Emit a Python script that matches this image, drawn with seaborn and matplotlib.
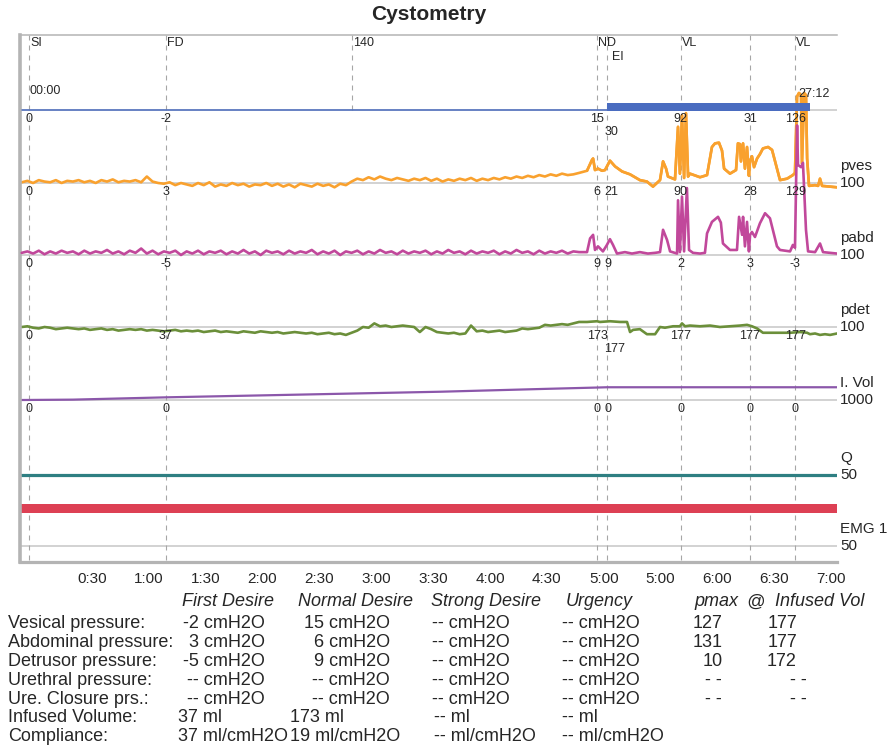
import numpy as np
import matplotlib
matplotlib.use("Agg")
import matplotlib.pyplot as plt
import seaborn as sns

sns.set_theme(style="white")
plt.rcParams['font.family'] = ['Liberation Sans', 'DejaVu Sans']

# --- Daten (Zeit in s, Werte in Kanaleinheiten) ---
t_quiet = np.arange(-7, 288, 3)

pves_quiet = [1, 3, 0, 4, 2, 1, 4, 0, 3, 2,
              4, 1, 3, 0, 4, 2, 5, 1, 3, 2,
              4, 1, 9, 2, 0, -1, 1, -3, 0, -2,
              -4, 0, -3, 1, -5, -2, -4, 0, -3, -1,
              -5, -2, -3, 0, -4, -1, -5, -2, -6, -1,
              -3, -5, -1, -4, -2, -6, -1, -3, 2, 6,
              4, 8, 5, 9, 6, 4, 7, 5, 3, 6,
              4, 7, 3, 6, 2, 5, 3, 6, 4, 7,
              3, 6, 4, 7, 5, 8, 6, 9, 7, 10,
              8, 11, 9, 12, 10, 13, 11, 12, 14]
pabd_quiet = [3, 5, 2, 6, 1, 5, 2, 6, 3, 5,
              1, 6, 2, 5, 3, 7, 2, 5, 1, 6,
              3, 9, 2, 6, 1, 5, 3, 6, 0, 5,
              2, 6, 1, 5, 3, 6, 1, 5, 2, 7,
              2, 5, 0, 6, 3, 5, 1, 6, 2, 5,
              3, 7, 1, 5, 2, 6, 0, 5, 3, 6,
              1, 5, 2, 7, 3, 5, 1, 6, 2, 5,
              3, 6, 1, 5, 2, 7, 3, 5, 1, 6,
              2, 5, 3, 6, 1, 5, 2, 7, 3, 5,
              1, 6, 2, 5, 3, 6, 2, 5, 4]
pdet_quiet = [0, 1, -1, -2, 0, -1, -3, -2, -1, -2,
              -3, -2, -4, -3, -2, -4, -3, -5, -4, -3,
              -4, -3, -5, -4, -5, -6, -5, -4, -6, -5,
              -6, -5, -7, -6, -5, -7, -6, -7, -8, -6,
              -7, -8, -6, -7, -8, -7, -9, -8, -7, -8,
              -9, -8, -10, -9, -8, -10, -9, -11, -8, -5,
              0, -1, 5, 1, 2, 0, 1, 2, 1, 0,
              -7, 0, -3, -7, -8, -9, -8, -10, -9, 2,
              -6, -5, -7, -6, -5, -7, -6, -5, -2, -3,
              -2, -1, 3, 2, 3, 4, 3, 5, 7]

pves_t = [291.2, 293.8, 294.4, 295.4, 297.0, 299.1, 300.7, 303.3, 306.0, 309.7,
          313.9, 319.1, 322.8, 326.0, 329.7, 331.3, 332.9, 333.9, 337.6, 339.2,
          340.2, 341.3, 342.4, 343.4, 344.5, 345.5, 350.8, 354.5, 357.1, 358.7,
          360.8, 362.4, 363.5, 366.6, 369.8, 370.8, 371.9, 372.4, 373.5, 374.5,
          375.6, 376.6, 377.2, 378.2, 379.3, 380.9, 382.4, 384.0, 386.7, 388.8,
          390.4, 393.0, 396.7, 399.8, 400.9, 402.0, 403.0, 404.1, 404.6, 405.7,
          406.7, 407.3, 408.3, 411.5, 413.1, 414.1, 415.2, 419.4, 423.1]
pves_v = [17, 32, 34, 18, 20, 17, 18, 31, 23, 16,
          12, 4, 2, -5, 4, 30, 20, 9, 5, 78,
          13, 94, 7, 97, 9, 13, 8, 11, 50, 55,
          56, 45, 20, 13, 18, 55, 54, 30, 55, 20,
          50, 10, 31, 37, 22, 34, 40, 48, 50, 46,
          30, 4, 6, 11, 14, 120, 125, 122, 27, 125,
          122, 34, -4, -3, -4, 6, -4, -5, -6]

pabd_t = [291.2, 292.8, 294.4, 295.4, 297.0, 299.6, 301.7, 303.3, 304.9, 307.0,
          311.2, 314.9, 319.1, 323.3, 327.1, 329.7, 331.3, 333.4, 335.0, 338.7,
          339.2, 340.2, 341.3, 342.4, 343.9, 345.0, 347.1, 350.8, 353.4, 354.5,
          357.1, 360.3, 361.8, 362.9, 366.6, 370.3, 371.4, 373.0, 373.5, 374.5,
          375.6, 376.6, 377.2, 378.2, 379.8, 382.4, 385.1, 387.7, 391.4, 393.0,
          398.3, 399.8, 400.9, 402.0, 402.5, 404.1, 405.1, 406.7, 407.8, 411.5,
          414.1, 415.7, 419.4, 423.1]
pabd_v = [4, 23, 28, 7, 12, 5, 14, 22, 14, 2,
          4, 2, 4, 2, 3, 4, 35, 21, 5, 2,
          76, 4, 81, 5, 93, 7, 3, 2, 3, 30,
          46, 53, 45, 16, 7, 7, 53, 28, 53, 12,
          46, 5, 28, 32, 25, 44, 58, 51, 12, 7,
          5, 14, 10, 180, 125, 122, 128, 35, 5, 4,
          16, 4, 3, 2]

pdet_t = [291.2, 296.5, 298.0, 303.3, 308.6, 312.3, 313.9, 315.5, 319.1, 322.8,
          327.1, 329.7, 332.3, 336.6, 340.2, 341.3, 342.9, 345.5, 350.8, 356.1,
          361.3, 366.6, 371.9, 375.6, 378.2, 380.9, 384.0, 389.3, 398.3, 403.6,
          407.3, 408.8, 411.5, 414.1, 416.7, 419.4, 423.1]
pdet_v = [7, 8, 7, 8, 7, 7, -7, -4, -3, -10,
          -10, 0, -1, 1, 1, 5, 1, 2, 1, 2,
          0, 1, 2, 3, 1, -2, -8, -8, -8, -7,
          -8, -10, -9, -11, -10, -11, -9]

vol_t = [-7, 20, 69.1, 140, 214, 270, 296.5, 301.7, 423.1]
vol_v = [0, 5, 37, 75, 115, 155, 173, 177, 177]

q_t = [-7.9, 423.1]
q_v = [0, 0]

emg_t = [-7.9, 423.1]
emg_lo = [23, 23]
emg_hi = [29, 29]

# Füllmarker: Start, EI, Ende
mark_t = [-7, 301.7, 408.8]

ev_names = ["SI", "FD", "140", "ND", "EI", "VL", "", "VL"]
ev_t = [-3.2, 69.1, 167.2, 296.5, 301.9, 340.6, 377.2, 401.1]
ev_rows = {
    'pves': ["0", "-2", None, "15", "30", "92", "31", "126"],
    'pabd': ["0", "3", None, "6", "21", "90", "28", "129"],
    'pdet': ["0", "-5", None, "9", "9", "2", "3", "-3"],
    'vol': ["0", "37", None, "173", "177", "177", "177", "177"],
    'q': ["0", "0", None, "0", "0", "0", "0", "0"],
}

tick_t = [30, 60, 90, 120, 150, 180, 210, 240, 270, 300, 330, 360, 390, 420]
tick_labels = ["0:30", "1:00", "1:30", "2:00", "2:30", "3:00", "3:30", "4:00",
               "4:30", "5:00", "5:00", "6:00", "6:30", "7:00"]

col_heads = ["First Desire", "Normal Desire", "Strong Desire", "Urgency", "pmax", "@", "Infused Vol"]
row_names = ["Vesical pressure:", "Abdominal pressure:", "Detrusor pressure:",
             "Urethral pressure:", "Ure. Closure prs.:", "Infused Volume:", "Compliance:"]
first_desire = ["-2 cmH2O", "3 cmH2O", "-5 cmH2O", "-- cmH2O", "-- cmH2O", "37 ml", "37 ml/cmH2O"]
normal_desire = ["15 cmH2O", "6 cmH2O", "9 cmH2O", "-- cmH2O", "-- cmH2O", "173 ml", "19 ml/cmH2O"]
strong_desire = ["-- cmH2O"] * 5 + ["-- ml", "-- ml/cmH2O"]
urgency = ["-- cmH2O"] * 5 + ["-- ml", "-- ml/cmH2O"]
pmax = ["127", "131", "10", "- -", "- -"]
pmax_vol = ["177", "177", "172", "- -", "- -"]

# --- Layout (Pixel) ---
W, H = 894, 749
L, R, T, B = 20, 837, 35, 562
base = {'mark': 110, 'pves': 183, 'pabd': 255, 'pdet': 327, 'vol': 400, 'q': 475, 'emg': 546}
scale = {'pves': 0.72, 'pabd': 0.72, 'pdet': 0.72, 'vol': 0.072, 'q': 1.44, 'emg': 1.44}
PT = 0.72  # pt pro px

fig = plt.figure(figsize=(W / 100, H / 100), dpi=100)
ax = fig.add_axes([L / W, 1 - B / H, (R - L) / W, (B - T) / H])
ax.set_xlim((L - 35) / 1.8957, (R - 35) / 1.8957)
ax.set_ylim(B, T)


def ypos(ch, v):
    return base[ch] - np.asarray(v, dtype=float) * scale[ch]


# Grundlinien
for ch in ['mark', 'pves', 'pabd', 'pdet', 'vol', 'q', 'emg']:
    ax.axhline(base[ch], color='#c6c6c6', lw=1.1, zorder=1)

# Ereignislinien
for name, t in zip(ev_names, ev_t):
    ymax = base['mark'] if name == "140" else B
    ax.vlines(t, T, ymax, color='#a6a6a6', lw=0.8, linestyles=(0, (4.5, 4.5)), zorder=1)

# Kurven
colors = {'pves': '#f9a12e', 'pabd': '#c1489b', 'pdet': '#6b8f3a', 'vol': '#8b57aa'}
traces = {
    'pves': (np.concatenate([t_quiet, pves_t]), pves_quiet + pves_v),
    'pabd': (np.concatenate([t_quiet, pabd_t]), pabd_quiet + pabd_v),
    'pdet': (np.concatenate([t_quiet, pdet_t]), pdet_quiet + pdet_v),
}
for ch in ['pves', 'pdet', 'pabd']:
    tt, vv = traces[ch]
    sns.lineplot(x=tt, y=ypos(ch, vv), ax=ax, color=colors[ch], lw=1.9,
                 estimator=None, sort=False, zorder=3 if ch == 'pabd' else 2)
# pves nochmal über pabd im Spitzenbereich
tt, vv = traces['pves']
sns.lineplot(x=tt[99:], y=ypos('pves', vv[99:]), ax=ax, color=colors['pves'], lw=1.9,
             estimator=None, sort=False, zorder=2.5)

sns.lineplot(x=vol_t, y=ypos('vol', vol_v), ax=ax, color=colors['vol'], lw=1.6,
             estimator=None, sort=False)
sns.lineplot(x=q_t, y=ypos('q', q_v), ax=ax, color='#2e7f82', lw=2.3,
             estimator=None, sort=False)
ax.fill_between(emg_t, ypos('emg', emg_lo), ypos('emg', emg_hi), color='#dd4054', lw=0, zorder=2)

# Füllmarker
ax.plot(mark_t[:2], [base['mark']] * 2, color='#4a6cc0', lw=1.1, zorder=3)
ax.fill_between(mark_t[1:], base['mark'] + 1, base['mark'] - 7, color='#4a6cc0', lw=0, zorder=3)
ax.annotate("00:00", xy=(mark_t[0], base['mark']), xytext=(8 * PT, 19 * PT),
            textcoords='offset points', ha='left', va='center', fontsize=9)
ax.annotate("27:12", xy=(mark_t[2], base['mark']), xytext=(4 * PT, 16 * PT),
            textcoords='offset points', ha='center', va='center', fontsize=9, zorder=5)

# Ereignisnamen oben
for name, t in zip(ev_names, ev_t):
    if not name:
        continue
    dx, dy = (5, -22) if name == "EI" else (1, -8)
    ax.annotate(name, xy=(t, T), xytext=(dx * PT, dy * PT), textcoords='offset points',
                ha='left', va='center', fontsize=9)

# Werte an den Ereignissen
above = {'pves': 'mark', 'pabd': 'pves', 'pdet': 'pabd', 'vol': 'pdet', 'q': 'vol'}
for ch, labels in ev_rows.items():
    y0 = base[above[ch]]
    nd, ei = labels[3], labels[4]
    for i, (lab, t) in enumerate(zip(labels, ev_t)):
        if lab is None:
            continue
        if i == 4:
            dy = -22 if len(nd) + len(ei) > 3 else -9
            ax.annotate(lab, xy=(t, y0), xytext=(-3 * PT, dy * PT), textcoords='offset points',
                        ha='left', va='center', fontsize=9)
        else:
            ax.annotate(lab, xy=(t, y0), xytext=(0, -9 * PT), textcoords='offset points',
                        ha='center', va='center', fontsize=9)

# Kanalnamen rechts
right = [('pves', "pves", "100"), ('pabd', "pabd", "100"), ('pdet', "pdet", "100"),
         ('vol', "I. Vol", "1000"), ('q', "Q", "50"), ('emg', "EMG 1", "50")]
ytr = ax.get_yaxis_transform()
for ch, name, num in right:
    ax.annotate(name, xy=(1, base[ch]), xycoords=ytr, xytext=(3 * PT, 17 * PT),
                textcoords='offset points', ha='left', va='center', fontsize=11)
    ax.annotate(num, xy=(1, base[ch]), xycoords=ytr, xytext=(3 * PT, 0),
                textcoords='offset points', ha='left', va='center', fontsize=11)

# Achsen
ax.set_xticks(tick_t)
ax.set_xticklabels(tick_labels)
ax.set_yticks([])
ax.tick_params(axis='x', length=0, pad=7, labelsize=11)
ax.grid(False)
for side in ['top', 'left', 'bottom', 'right']:
    ax.spines[side].set_color('#b4b4b4')
ax.spines['right'].set_visible(False)
ax.spines['top'].set_linewidth(1.1)
ax.spines['left'].set_linewidth(2.6)
ax.spines['bottom'].set_linewidth(2.3)

fig.text((L + R) / 2 / W, 1 - 15 / H, "Cystometry", ha='center', va='center',
         fontsize=15, fontweight='bold')


# --- Tabelle ---
def put(x, y, s, ha='left', italic=False):
    fig.text(x / W, 1 - y / H, s, ha=ha, va='center', fontsize=13,
             fontstyle='italic' if italic else 'normal')


head_x = [182, 298, 431, 566, 694, 755, 775]
for hx, h in zip(head_x, col_heads):
    put(hx, 602, h, ha='center' if h == "@" else 'left', italic=True)

for r, name in enumerate(row_names):
    y = 624 + r * 18.8
    put(8, y, name)
    if r < 5:
        put(265, y, first_desire[r], 'right')
        put(390, y, normal_desire[r], 'right')
        put(432, y, strong_desire[r])
        put(562, y, urgency[r])
        if pmax[r] == "- -":
            put(713, y, pmax[r], 'center')
            put(798, y, pmax_vol[r], 'center')
        else:
            put(723, y, pmax[r], 'right')
            put(797, y, pmax_vol[r], 'right')
    else:
        put(178, y, first_desire[r])
        put(290, y, normal_desire[r])
        put(434, y, strong_desire[r])
        put(562, y, urgency[r])

fig.savefig("out.png", dpi=100)
